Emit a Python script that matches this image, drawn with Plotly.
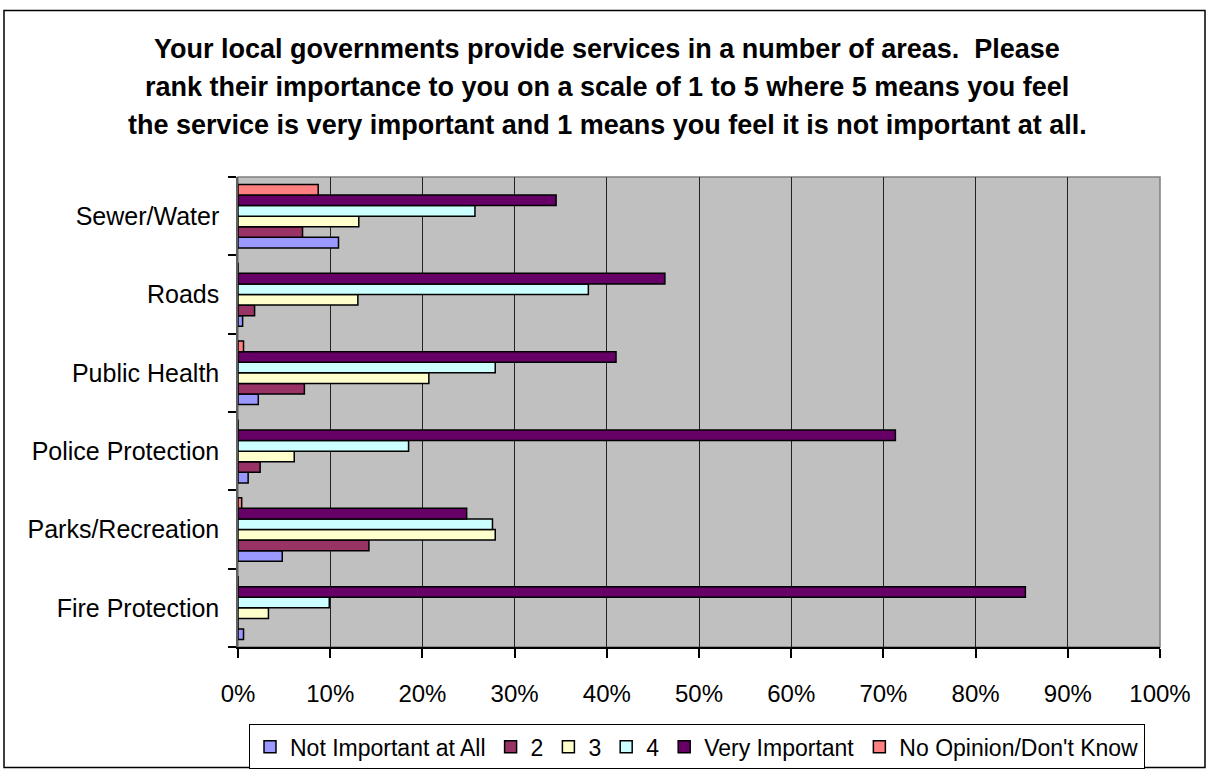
import plotly.graph_objects as go

# Services, listed bottom-to-top as they appear on the category axis
services = ["Fire Protection", "Parks/Recreation", "Police Protection",
            "Public Health", "Roads", "Sewer/Water"]

# Share of respondents (%) giving each rating, same order as services
not_important = [0.6, 4.8, 1.1, 2.2, 0.5, 10.9]
rating_2 = [0.0, 14.2, 2.4, 7.2, 1.8, 7.0]
rating_3 = [3.3, 27.9, 6.1, 20.7, 13.0, 13.1]
rating_4 = [9.9, 27.6, 18.5, 27.9, 38.0, 25.7]
very_important = [85.4, 24.8, 71.3, 41.0, 46.3, 34.5]
no_opinion = [0.0, 0.4, 0.0, 0.6, 0.0, 8.7]

series_names = ["Not Important at All", "2", "3", "4", "Very Important",
                "No Opinion/Don't Know"]
series_values = [not_important, rating_2, rating_3, rating_4,
                 very_important, no_opinion]
series_colors = ["#9999FF", "#993366", "#FFFFCC", "#CCFFFF", "#660066", "#FF8080"]

title_lines = [
    "Your local governments provide services in a number of areas.  Please",
    "rank their importance to you on a scale of 1 to 5 where 5 means you feel",
    "the service is very important and 1 means you feel it is not important at all.",
]

FONT = "Liberation Sans, Arial, sans-serif"

fig = go.Figure()
for name, vals, col in zip(series_names, series_values, series_colors):
    fig.add_trace(go.Bar(
        y=services, x=vals, name=name, orientation="h",
        marker=dict(color=col, line=dict(color="black", width=1.5)),
        hoverinfo="x+name",
    ))

# plot area geometry in pixels, used to place paper-referenced items
L, R, T, B = 238, 1160, 177, 657
W, H = R - L, B - T


def px_x(p):
    return (p - L) / W


def px_y(p):
    return (B - p) / H


annotations = []
for line, ypix in zip(title_lines, [46, 85, 124]):
    annotations.append(dict(
        text="<b>" + line + "</b>", xref="paper", yref="paper",
        x=px_x(607), y=px_y(ypix), xanchor="center", yanchor="middle",
        showarrow=False, font=dict(family=FONT, size=27, color="black"),
    ))

shapes = [
    # outer chart frame
    dict(type="rect", xref="paper", yref="paper",
         x0=px_x(4), x1=px_x(1205), y0=px_y(780), y1=px_y(7),
         line=dict(color="black", width=1.5), layer="below"),
    # plot area frame
    dict(type="rect", xref="paper", yref="paper", x0=0, x1=1, y0=0, y1=1,
         line=dict(color="#808080", width=1.5), layer="below"),
]

fig.update_layout(
    width=1208, height=781,
    margin=dict(l=L, r=1208 - R, t=T, b=781 - B),
    paper_bgcolor="white", plot_bgcolor="#C0C0C0",
    barmode="group", bargap=0.19, bargroupgap=0,
    font=dict(family=FONT, size=24, color="black"),
    showlegend=True,
    legend=dict(
        orientation="h", x=px_x(697), xanchor="center",
        y=px_y(736), yanchor="top",
        bordercolor="black", borderwidth=1, bgcolor="white",
        font=dict(family=FONT, size=23, color="black"),
        traceorder="normal", itemwidth=30,
    ),
    xaxis=dict(
        range=[0, 100], dtick=10, tick0=0, ticksuffix="%",
        showgrid=True, gridcolor="#222222", gridwidth=1,
        showline=True, linecolor="black", linewidth=1.5,
        ticks="outside", ticklen=9, tickcolor="black", tickwidth=1.5,
        tickfont=dict(family=FONT, size=24), zeroline=False,
        ticklabelstandoff=15, fixedrange=True,
    ),
    yaxis=dict(
        type="category", categoryorder="array", categoryarray=services,
        showline=True, linecolor="#606060", linewidth=1.5,
        ticks="outside", tickson="boundaries", ticklen=8,
        tickcolor="black", tickwidth=1.5, showgrid=False,
        tickfont=dict(family=FONT, size=25), ticklabelstandoff=12,
        fixedrange=True,
    ),
    annotations=annotations,
    shapes=shapes,
)

fig.write_html("out.html")
